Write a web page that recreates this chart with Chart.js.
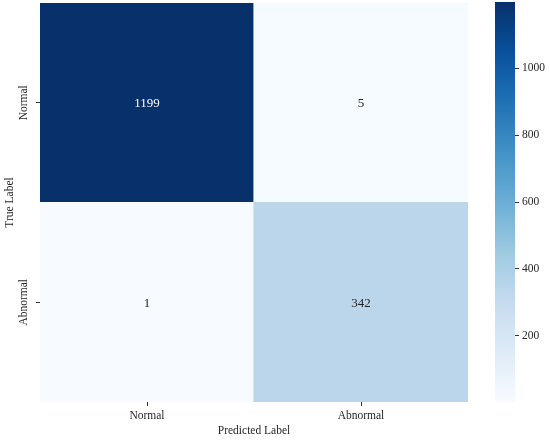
<!DOCTYPE html>
<html>
<head>
<meta charset="utf-8">
<script src="https://cdn.jsdelivr.net/npm/chart.js@4.4.1/dist/chart.umd.min.js"></script>
<style>
  html, body { margin: 0; padding: 0; background: #fff; }
  #wrap { position: relative; width: 550px; height: 442px; }
  #boxMatriz { position: absolute; left: 0; top: 0; width: 480px; height: 442px; }
  #boxBarra { position: absolute; left: 480px; top: 0; width: 70px; height: 442px; }
</style>
</head>
<body>
<div id="wrap">
  <div id="boxMatriz"><canvas id="chartMatriz"></canvas></div>
  <div id="boxBarra"><canvas id="chartBarra"></canvas></div>
</div>
<script>
// dados da matriz de confusão
var predLabels = ["Normal", "Abnormal"];
var trueLabels = ["Normal", "Abnormal"];
var rowNormal = [1199, 5];
var rowAbnormal = [1, 342];
var colorbarTicks = [200, 400, 600, 800, 1000];

var FONTE = "'Liberation Serif', 'Times New Roman', serif";
var COR_TEXTO = "#262626";
var TAM = 11.5;

// paleta Blues (matplotlib)
var blues = ["#f7fbff", "#deebf7", "#c6dbef", "#9ecae1", "#6baed6",
             "#4292c6", "#2171b5", "#08519c", "#08306b"];

var todos = rowNormal.concat(rowAbnormal);
var vmin = Math.min.apply(null, todos);
var vmax = Math.max.apply(null, todos);

function hexRgb(h) {
    return [parseInt(h.substr(1, 2), 16), parseInt(h.substr(3, 2), 16), parseInt(h.substr(5, 2), 16)];
}

function corBlues(v) {
    var t = (v - vmin) / (vmax - vmin);
    t = Math.max(0, Math.min(1, t));
    var p = t * (blues.length - 1);
    var i = Math.min(Math.floor(p), blues.length - 2);
    var f = p - i;
    var a = hexRgb(blues[i]), b = hexRgb(blues[i + 1]);
    return a.map(function (x, k) { return Math.round(x + (b[k] - x) * f); });
}

function corCss(v) {
    var c = corBlues(v);
    return "rgb(" + c[0] + "," + c[1] + "," + c[2] + ")";
}

function corAnotacao(v) {
    var c = corBlues(v).map(function (x) {
        x = x / 255;
        return x <= 0.03928 ? x / 12.92 : Math.pow((x + 0.055) / 1.055, 2.4);
    });
    var lum = 0.2126 * c[0] + 0.7152 * c[1] + 0.0722 * c[2];
    return lum > 0.408 ? COR_TEXTO : "#ffffff";
}

// escreve os valores no centro das células
var pluginValores = {
    id: "valores",
    afterDatasetsDraw: function (chart) {
        var ctx = chart.ctx;
        ctx.save();
        ctx.font = "13px " + FONTE;
        ctx.textAlign = "center";
        ctx.textBaseline = "middle";
        chart.data.datasets.forEach(function (ds, di) {
            var meta = chart.getDatasetMeta(di);
            meta.data.forEach(function (el, i) {
                var v = ds.valores[i];
                ctx.fillStyle = corAnotacao(v);
                ctx.fillText(String(v), el.x, (el.y + el.base) / 2 + 1);
            });
        });
        ctx.restore();
    }
};

// rótulos do eixo y girados
var pluginRotulosY = {
    id: "rotulosY",
    afterDraw: function (chart) {
        var sc = chart.scales.y;
        var ctx = chart.ctx;
        ctx.save();
        ctx.font = TAM + "px " + FONTE;
        ctx.fillStyle = COR_TEXTO;
        ctx.textAlign = "center";
        ctx.textBaseline = "middle";
        sc.ticks.forEach(function (t) {
            ctx.save();
            ctx.translate(24, sc.getPixelForValue(t.value));
            ctx.rotate(-Math.PI / 2);
            ctx.fillText(t.label, 0, 0);
            ctx.restore();
        });
        ctx.restore();
    }
};

function plotarMatriz() {
    var ctx = document.getElementById("chartMatriz").getContext("2d");
    new Chart(ctx, {
        type: "bar",
        data: {
            labels: predLabels,
            datasets: [{
                label: trueLabels[1],
                data: rowAbnormal.map(function () { return 1; }),
                valores: rowAbnormal,
                backgroundColor: rowAbnormal.map(corCss),
                borderWidth: 0,
                inflateAmount: 0.6,
                barPercentage: 1,
                categoryPercentage: 1
            }, {
                label: trueLabels[0],
                data: rowNormal.map(function () { return 1; }),
                valores: rowNormal,
                backgroundColor: rowNormal.map(corCss),
                borderWidth: 0,
                inflateAmount: 0.6,
                barPercentage: 1,
                categoryPercentage: 1
            }]
        },
        options: {
            responsive: true,
            maintainAspectRatio: false,
            animation: false,
            layout: { padding: { top: 3, right: 12, left: 0, bottom: 0 } },
            plugins: { legend: { display: false }, tooltip: { enabled: false } },
            scales: {
                x: {
                    stacked: true,
                    grid: { offset: false, drawOnChartArea: false, drawTicks: true, tickLength: 4, color: "#333", lineWidth: 1 },
                    border: { display: false },
                    ticks: { color: COR_TEXTO, font: { family: FONTE, size: TAM }, padding: 3, maxRotation: 0 },
                    title: { display: true, text: "Predicted Label", color: COR_TEXTO, font: { family: FONTE, size: TAM }, padding: { top: 0, bottom: 4 } },
                    afterFit: function (s) { s.height = 40; }
                },
                y: {
                    stacked: true,
                    min: 0,
                    max: 2,
                    afterBuildTicks: function (s) {
                        s.ticks = [{ value: 0.5 }, { value: 1.5 }];
                    },
                    grid: { drawOnChartArea: false, drawTicks: true, tickLength: 4, color: "#333", lineWidth: 1 },
                    border: { display: false },
                    ticks: {
                        display: false,
                        callback: function (v) { return v < 1 ? trueLabels[1] : trueLabels[0]; }
                    },
                    title: { display: true, text: "True Label", color: COR_TEXTO, font: { family: FONTE, size: TAM }, padding: { top: 3, bottom: 0 } },
                    afterFit: function (s) { s.width = 40; }
                }
            }
        },
        plugins: [pluginValores, pluginRotulosY]
    });
}

function plotarBarra() {
    var ctx = document.getElementById("chartBarra").getContext("2d");
    new Chart(ctx, {
        type: "bar",
        data: {
            labels: [""],
            datasets: [{
                data: [[vmin, vmax]],
                borderWidth: 0,
                barPercentage: 1,
                categoryPercentage: 1,
                backgroundColor: function (c) {
                    var area = c.chart.chartArea;
                    if (!area) return blues[4];
                    var g = c.chart.ctx.createLinearGradient(0, area.bottom, 0, area.top);
                    blues.forEach(function (cor, i) { g.addColorStop(i / (blues.length - 1), cor); });
                    return g;
                }
            }]
        },
        options: {
            responsive: true,
            maintainAspectRatio: false,
            animation: false,
            layout: { padding: { top: 2, right: 0, left: 15, bottom: 40 } },
            plugins: { legend: { display: false }, tooltip: { enabled: false } },
            scales: {
                x: { display: false },
                y: {
                    position: "right",
                    min: vmin,
                    max: vmax,
                    afterBuildTicks: function (s) {
                        s.ticks = colorbarTicks.map(function (v) { return { value: v }; });
                    },
                    grid: { drawOnChartArea: false, drawTicks: true, tickLength: 4, color: "#333", lineWidth: 1 },
                    border: { display: false },
                    ticks: {
                        color: COR_TEXTO,
                        font: { family: FONTE, size: TAM },
                        padding: 3,
                        callback: function (v) { return String(v); }
                    },
                    afterFit: function (s) {
                        s.width = 35;
                        s.paddingTop = 0;
                        s.paddingBottom = 0;
                    }
                }
            }
        }
    });
}

plotarMatriz();
plotarBarra();
</script>
</body>
</html>
